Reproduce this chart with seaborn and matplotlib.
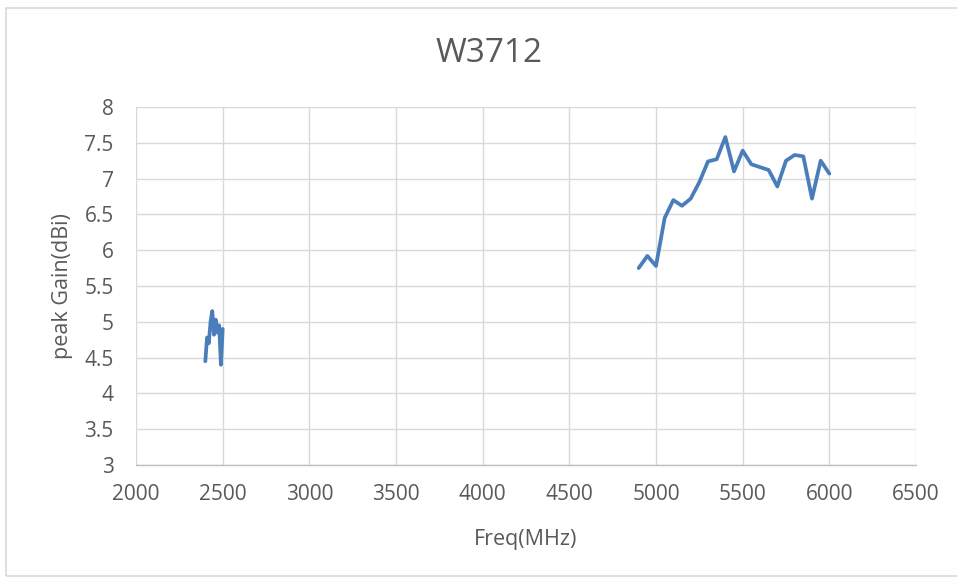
import matplotlib
matplotlib.use("Agg")
import matplotlib.pyplot as plt
import seaborn as sns
import pandas as pd
from matplotlib.patches import Rectangle

# ---- data ----
freq_24 = [2400, 2410, 2420, 2430, 2440, 2450, 2460, 2470, 2480, 2490, 2500]
gain_24 = [4.45, 4.78, 4.70, 5.00, 5.15, 4.82, 5.03, 4.85, 4.95, 4.40, 4.90]

freq_5 = [4900, 4950, 5000, 5050, 5100, 5150, 5200, 5250, 5300, 5350, 5400,
          5450, 5500, 5550, 5600, 5650, 5700, 5750, 5800, 5850, 5900, 5950, 6000]
gain_5 = [5.75, 5.92, 5.78, 6.45, 6.70, 6.62, 6.72, 6.95, 7.24, 7.27, 7.58,
          7.10, 7.39, 7.20, 7.16, 7.12, 6.89, 7.25, 7.33, 7.31, 6.72, 7.25, 7.07]

x_ticks = [2000, 2500, 3000, 3500, 4000, 4500, 5000, 5500, 6000, 6500]
y_ticks = [3, 3.5, 4, 4.5, 5, 5.5, 6, 6.5, 7, 7.5, 8]
y_tick_labels = ["3", "3.5", "4", "4.5", "5", "5.5", "6", "6.5", "7", "7.5", "8"]

title = "W3712"
x_label = "Freq(MHz)"
y_label = "peak Gain(dBi)"

df24 = pd.DataFrame({"freq": freq_24, "gain": gain_24})
df5 = pd.DataFrame({"freq": freq_5, "gain": gain_5})

sns.set_theme(style="white")
plt.rcParams["font.family"] = ["Open Sans", "DejaVu Sans"]

W, H = 957, 581
fig = plt.figure(figsize=(W / 100, H / 100), dpi=100)
fig.patch.set_facecolor("white")
ax = fig.add_axes([136 / W, (H - 465) / H, (916 - 136) / W, (465 - 107) / H])

line_color = "#4a7ebb"
for d in (df24, df5):
    sns.lineplot(data=d, x="freq", y="gain", ax=ax, color=line_color, linewidth=2.7,
                 estimator=None, sort=False, solid_joinstyle="round",
                 solid_capstyle="round")

ax.set_xlim(2000, 6500)
ax.set_ylim(3, 8)
ax.set_xticks(x_ticks)
ax.set_yticks(y_ticks)
ax.set_yticklabels(y_tick_labels)

ax.grid(True, color="#d9d9d9", linewidth=1.0)
ax.set_axisbelow(True)
for side in ["top", "right", "left"]:
    ax.spines[side].set_visible(False)
ax.spines["bottom"].set_color("#bfbfbf")
ax.spines["bottom"].set_linewidth(1.0)

txt = "#595959"
ax.tick_params(axis="both", length=0, labelsize=15, labelcolor=txt)
ax.tick_params(axis="x", pad=14)
ax.tick_params(axis="y", pad=16)

ax.set_xlabel(x_label, fontsize=15.5, color=txt, labelpad=17)
ax.set_ylabel(y_label, fontsize=15.5, color=txt, labelpad=8)
fig.text(489 / W, 1 - 53 / H, title, ha="center", va="center", fontsize=24, color=txt)

fig.patches.append(Rectangle((6 / W, 1 - 576 / H), 1.0, (576 - 8) / H,
                             transform=fig.transFigure, fill=False,
                             edgecolor="#d9d9d9", linewidth=1.2))

fig.savefig("out.png", dpi=100)
